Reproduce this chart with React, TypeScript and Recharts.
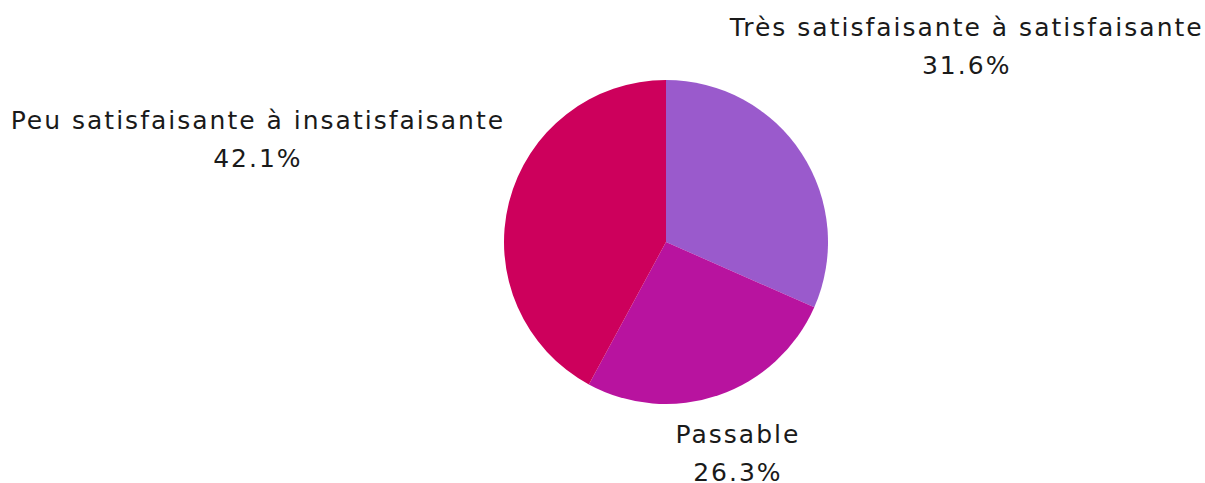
import { PieChart, Pie, Cell } from "recharts";

const CATEGORIES = [
  "Très satisfaisante à satisfaisante",
  "Passable",
  "Peu satisfaisante à insatisfaisante",
];
const VALUES = [31.6, 26.3, 42.1];
const COLORS = ["#9a5acc", "#b8139f", "#cd005c"];

// distance du centre de chaque étiquette au centre du camembert
const LABEL_DIST = [359, 222, 421];

const data = CATEGORIES.map((name, i) => ({ name, value: VALUES[i] }));

const RADIAN = Math.PI / 180;

const renderLabel = (props: any) => {
  const { cx, cy, midAngle, index, value, name } = props;
  const d = LABEL_DIST[index];
  const x = cx + d * Math.cos(-midAngle * RADIAN);
  const y = cy + d * Math.sin(-midAngle * RADIAN);
  return (
    <text
      x={x}
      y={y}
      textAnchor="middle"
      fill="#1a1a1a"
      fontSize={25}
      letterSpacing={2}
      fontFamily="'DejaVu Sans', sans-serif"
    >
      <tspan x={x} dy="-0.38em">{name}</tspan>
      <tspan x={x} dy="1.52em">{value.toFixed(1)}%</tspan>
    </text>
  );
};

export default function App() {
  return (
    <div style={{ position: "absolute", left: 0, top: 0, background: "#fff" }}>
      <PieChart width={1205} height={483} margin={{ top: 0, right: 0, bottom: 0, left: 0 }}>
        <Pie
          data={data}
          dataKey="value"
          nameKey="name"
          cx={666}
          cy={242}
          outerRadius={162}
          startAngle={90}
          endAngle={-270}
          stroke="none"
          labelLine={false}
          label={renderLabel}
          isAnimationActive={false}
        >
          {data.map((_, i) => (
            <Cell key={`cell-${i}`} fill={COLORS[i]} />
          ))}
        </Pie>
      </PieChart>
    </div>
  );
}
